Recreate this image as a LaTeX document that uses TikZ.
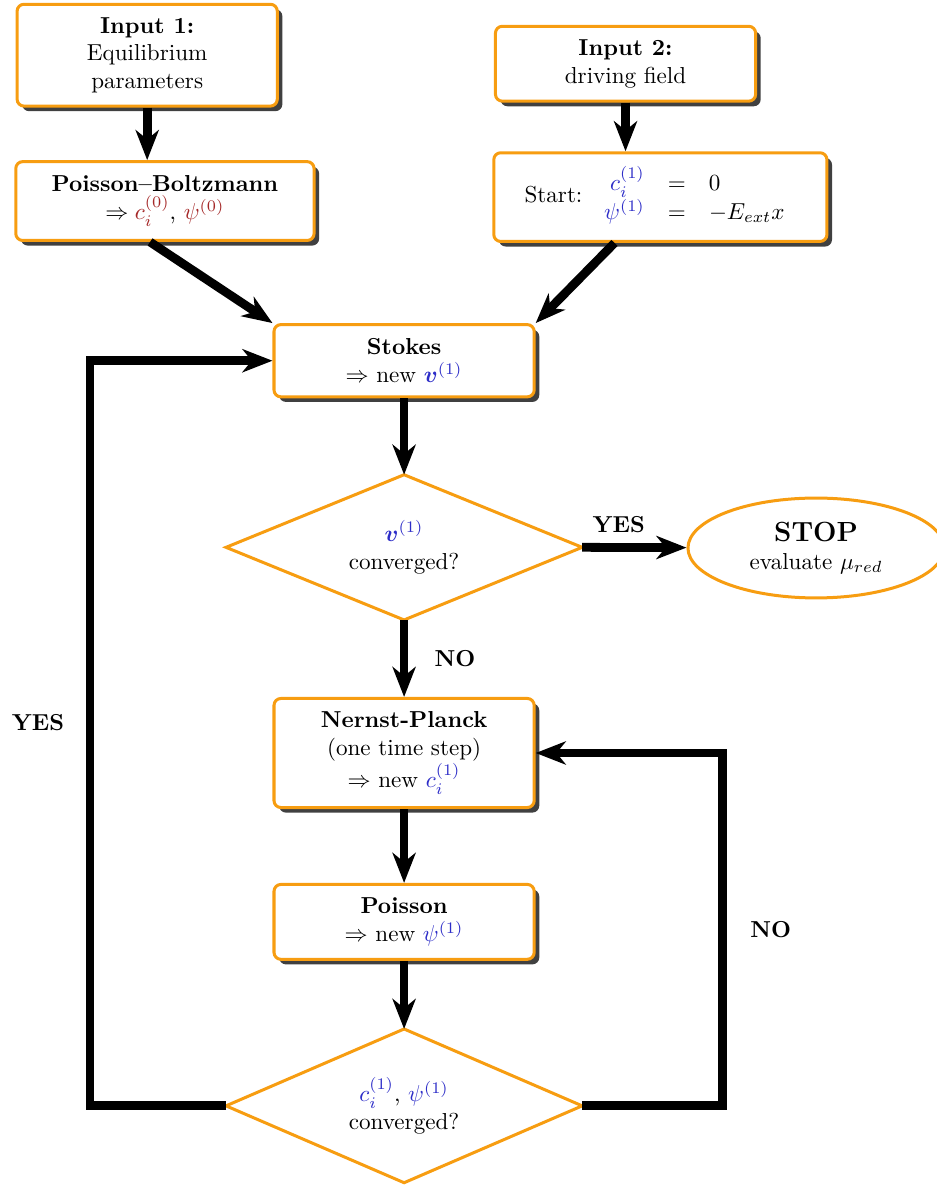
\documentclass[tikz,border=0pt]{standalone}
\usepackage{amsmath,amssymb}
\usetikzlibrary{shapes.geometric, shadows, arrows.meta}

\definecolor{boxorange}{RGB}{247,157,17}
\definecolor{eqred}{RGB}{165,40,40}
\definecolor{eqblue}{RGB}{45,45,200}

\begin{document}
\begin{tikzpicture}[>={Stealth[length=13pt, width=10pt, inset=4pt]}, font=\normalsize]
	% --- Parametri ---
	\def\boxW{3.96}
	\def\colX{6.15}
	\def\loopL{1.37}
	\def\loopR{10.99}
	
	% --- Stili ---
	\tikzset{
		block/.style={rectangle, draw=boxorange, line width=1.3pt, fill=white, rounded corners=3pt,
			align=center, minimum width=\boxW cm,
			drop shadow={shadow xshift=2.2pt, shadow yshift=-2.2pt, fill=black!75, opacity=1}},
		decision/.style={diamond, draw=boxorange, line width=1.3pt, fill=white, align=center,
			minimum width=5.42cm, inner sep=0pt, outer sep=0pt},
		stopnode/.style={ellipse, draw=boxorange, line width=1.3pt, fill=white, align=center,
			minimum width=3.9cm, minimum height=1.52cm},
		flow/.style={->, line width=3.8pt},
		answer/.style={font=\bfseries}
	}
	
	\useasboundingbox (0,0) rectangle (14.26,-18.05);
	
	% --- Ingressi ---
	\node[block, minimum height=1.55cm] (in1) at (2.24,-0.84)
		{\textbf{Input 1:}\\ Equilibrium\\ parameters};
	\node[block, minimum height=1.14cm] (in2) at (9.52,-0.97)
		{\textbf{Input 2:}\\ driving field};
	\node[block, minimum width=4.54cm, minimum height=1.20cm] (pb) at (2.51,-3.06)
		{\textbf{Poisson--Boltzmann}\\ $\Rightarrow \textcolor{eqred}{c_i^{(0)}}$, $\textcolor{eqred}{\psi^{(0)}}$};
	\node[block, minimum width=5.07cm, minimum height=1.35cm] (start) at (10.05,-3.00)
		{Start: $\begin{array}{rcl}
			\textcolor{eqblue}{c_i^{(1)}} & = & 0\\
			\textcolor{eqblue}{\psi^{(1)}} & = & -E_{ext}x
		\end{array}$};
	
	% --- Ciclo ---
	\node[block, minimum height=1.10cm] (stokes) at (\colX,-5.49)
		{\textbf{Stokes}\\ $\Rightarrow$ new $\textcolor{eqblue}{\boldsymbol{v}^{(1)}}$};
	\node[decision, minimum height=2.21cm, shape aspect=2.45] (dec1) at (\colX,-8.33)
		{$\textcolor{eqblue}{\boldsymbol{v}^{(1)}}$\\ converged?};
	\node[stopnode] (stop) at (12.42,-8.34)
		{{\large\bfseries STOP}\\ evaluate $\mu_{red}$};
	\node[block, minimum height=1.66cm] (np) at (\colX,-11.46)
		{\textbf{Nernst-Planck}\\ (one time step)\\ $\Rightarrow$ new $\textcolor{eqblue}{c_i^{(1)}}$};
	\node[block, minimum height=1.14cm] (poi) at (\colX,-14.03)
		{\textbf{Poisson}\\ $\Rightarrow$ new $\textcolor{eqblue}{\psi^{(1)}}$};
	\node[decision, minimum height=2.34cm, shape aspect=2.32] (dec2) at (\colX,-16.83)
		{$\textcolor{eqblue}{c_i^{(1)}}$, $\textcolor{eqblue}{\psi^{(1)}}$\\ converged?};
	
	\coordinate (left) at (\loopL,0);
	\coordinate (right) at (\loopR,0);
	
	% --- Frecce ---
	\draw[flow] (in1.south) -- (in1.south |- pb.north);
	\draw[flow] (in2.south) -- (in2.south |- start.north);
	\draw[flow] (pb.250) -- (stokes.north west);
	\draw[flow] (start.225) -- (stokes.north east);
	\draw[flow] (stokes) -- (dec1);
	\draw[flow] (dec1.east) -- node[pos=0.35, above=1pt, answer] {YES} (stop);
	\draw[flow] (dec1.south) -- node[midway, right=8pt, answer] {NO} (np);
	\draw[flow] (np) -- (poi);
	\draw[flow] (poi) -- (dec2.north);
	\draw[flow] (dec2.west) -- (dec2.west -| left) |- node[pos=0.257, left=6pt, answer] {YES} (stokes.west);
	\draw[flow] (dec2.east) -- (dec2.east -| right) |- node[pos=0.25, right=7pt, answer] {NO} (np.east);
\end{tikzpicture}
\end{document}
